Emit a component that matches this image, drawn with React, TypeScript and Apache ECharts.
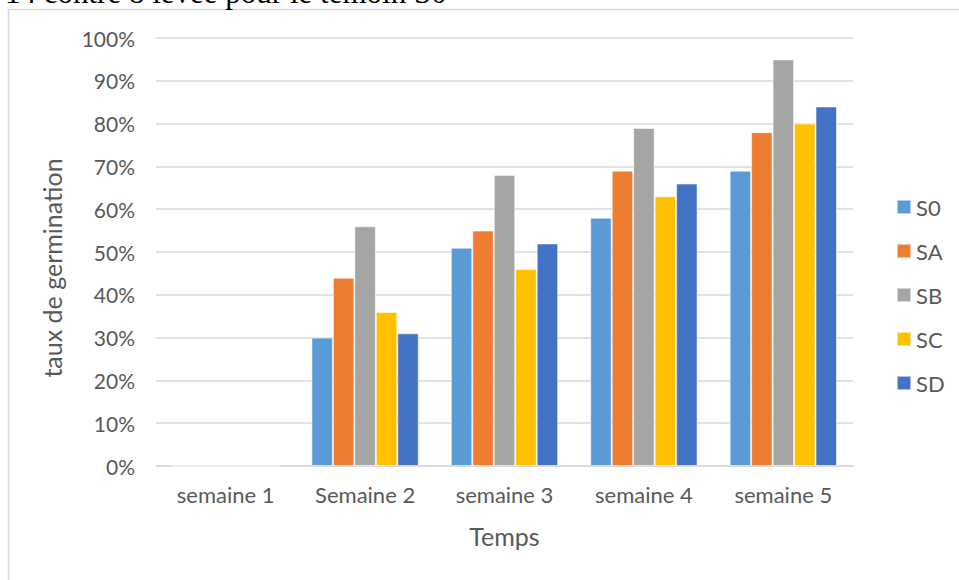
import React, { useEffect, useRef } from "react";
import * as echarts from "echarts";

const categories = ["semaine 1", "Semaine 2", "semaine 3", "semaine 4", "semaine 5"];
const seriesNames = ["S0", "SA", "SB", "SC", "SD"];
const S0 = [0, 30, 51, 58, 69];
const SA = [0, 44, 55, 69, 78];
const SB = [0, 56, 68, 79, 95];
const SC = [0, 36, 46, 63, 80];
const SD = [0, 31, 52, 66, 84];
const seriesValues = [S0, SA, SB, SC, SD];
const colors = ["#5B9BD5", "#ED7D31", "#A5A5A5", "#FFC000", "#4472C4"];
const yTicks = { min: 0, max: 100, interval: 10 };
const headText = "14 contre 8 levée pour le témoin S0";
const yAxisTitle = "taux de germination";
const xAxisTitle = "Temps";

const FONT = "Lato, 'Open Sans', sans-serif";
const TXT = "#595959";

export default function App() {
  const ref = useRef<HTMLDivElement>(null);
  useEffect(() => {
    if (!ref.current) return;
    const chart = echarts.init(ref.current, undefined, { renderer: "svg" });
    chart.setOption({
      animation: false,
      backgroundColor: "#ffffff",
      textStyle: { fontFamily: FONT },
      grid: { left: 156, right: 106, top: 38, bottom: 114, containLabel: false },
      legend: {
        orient: "vertical",
        left: 891,
        top: 191,
        itemWidth: 14,
        itemHeight: 14,
        itemGap: 22,
        icon: "rect",
        textStyle: { fontFamily: FONT, fontSize: 22, color: TXT },
        data: seriesNames,
      },
      xAxis: {
        type: "category",
        data: categories,
        name: xAxisTitle,
        nameLocation: "middle",
        nameGap: 57,
        nameTextStyle: { fontFamily: FONT, fontSize: 25, color: TXT },
        axisLine: { lineStyle: { color: "#d9d9d9", width: 1.5 } },
        axisTick: { show: false },
        axisLabel: { fontFamily: FONT, fontSize: 22, color: TXT, margin: 17 },
      },
      yAxis: {
        type: "value",
        min: yTicks.min,
        max: yTicks.max,
        interval: yTicks.interval,
        axisLine: { show: false },
        axisTick: { show: false },
        axisLabel: { fontFamily: FONT, fontSize: 21, color: TXT, margin: 21, formatter: "{value}%" },
        splitLine: { lineStyle: { color: "#d9d9d9", width: 1.5 } },
      },
      series: seriesNames.map((n, i) => ({
        name: n,
        type: "bar",
        data: seriesValues[i],
        barGap: "0%",
        barCategoryGap: "23%",
        itemStyle: { color: colors[i], borderColor: "rgba(255,255,255,0.55)", borderWidth: 1 },
      })),
      graphic: [
        {
          type: "line",
          shape: { x1: 8.5, y1: 9, x2: 8.5, y2: 580 },
          style: { stroke: "#d9d9d9", lineWidth: 1.5 },
          silent: true,
        },
        {
          type: "line",
          shape: { x1: 8, y1: 9.5, x2: 959, y2: 9.5 },
          style: { stroke: "#d9d9d9", lineWidth: 1.5 },
          silent: true,
        },
        {
          type: "text",
          x: 52,
          y: 268,
          rotation: Math.PI / 2,
          silent: true,
          style: {
            text: yAxisTitle,
            fontFamily: FONT,
            fontSize: 25,
            fill: TXT,
            align: "center",
            verticalAlign: "middle",
          },
        },
        {
          type: "text",
          x: 5,
          y: -8,
          silent: true,
          style: {
            text: headText,
            font: "31px 'Liberation Serif', 'DejaVu Serif', serif",
            fill: "#000000",
            verticalAlign: "middle",
            align: "left",
          },
        },
      ],
    });
    return () => chart.dispose();
  }, []);
  return (
    <div
      ref={ref}
      style={{ position: "fixed", left: 0, top: 0, width: 959, height: 580 }}
    />
  );
}
